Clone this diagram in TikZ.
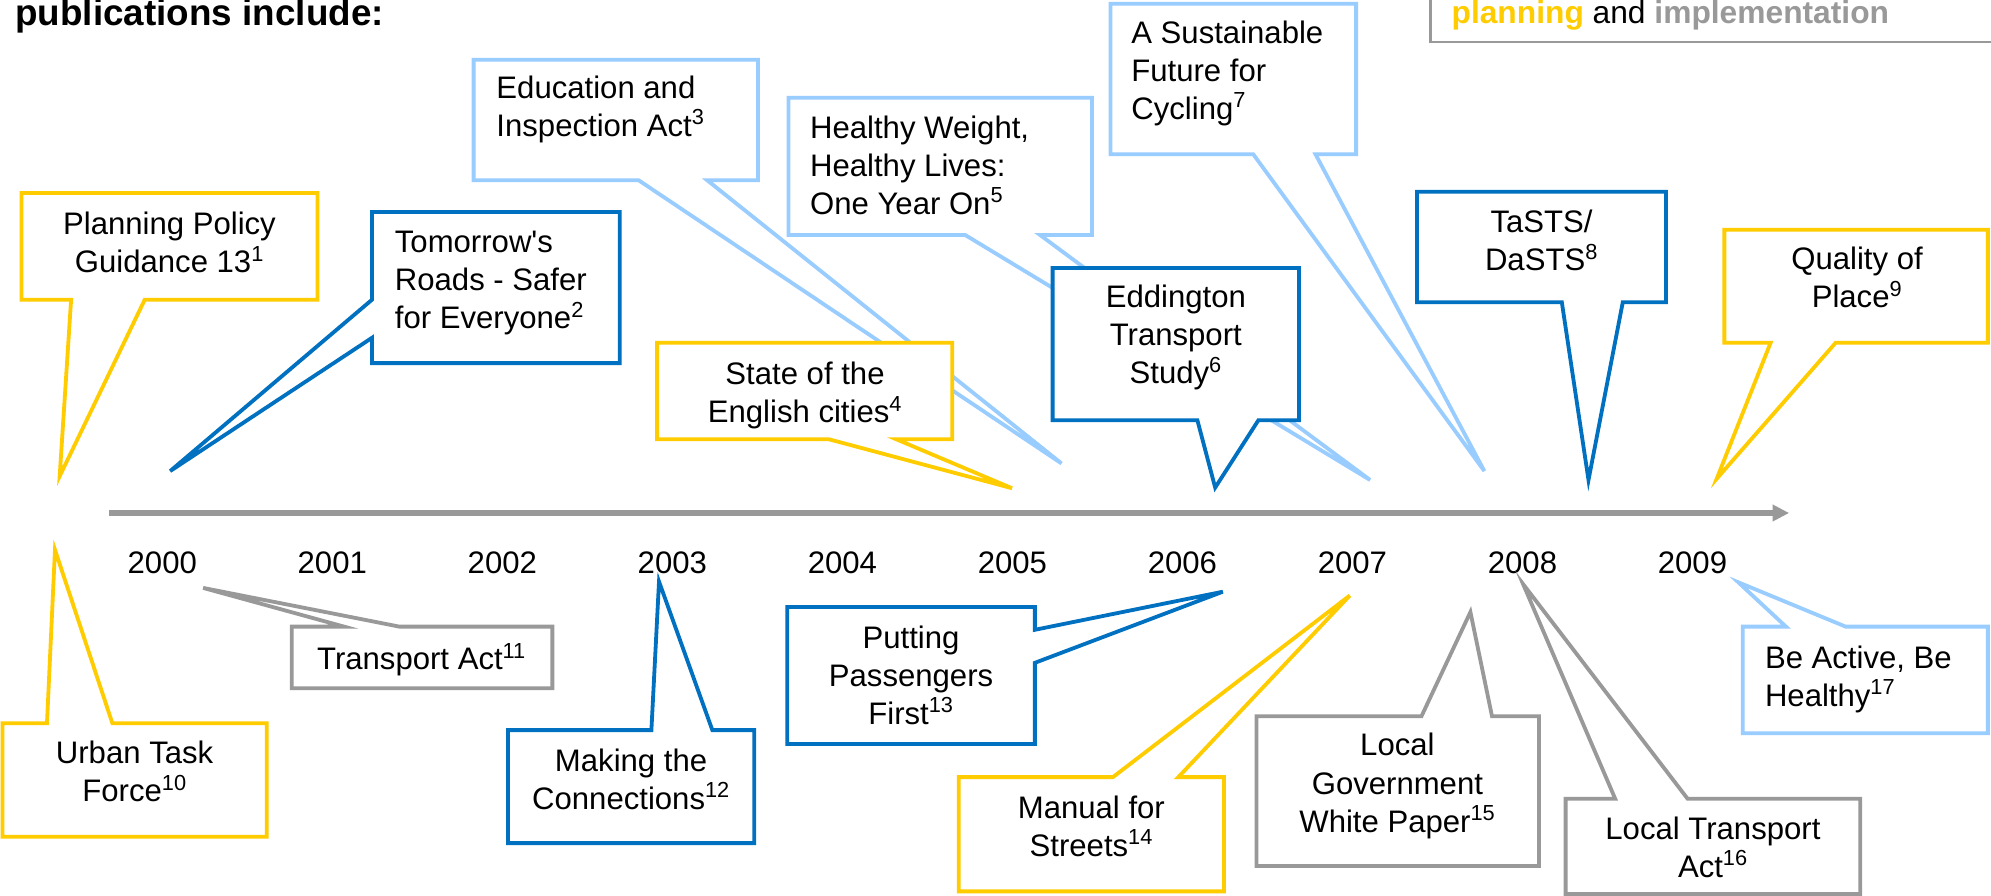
\documentclass[tikz,border=0pt]{standalone}
\usepackage{fontspec}
\setmainfont{Liberation Sans}
\usetikzlibrary{arrows.meta}
\definecolor{cyel}{HTML}{FFCC00}
\definecolor{cdblue}{HTML}{0070C0}
\definecolor{clblue}{HTML}{99CCFF}
\definecolor{cgray}{HTML}{999999}
\tikzset{
  box/.style={draw=none, inner sep=0pt, outer sep=0pt},
  txt/.style={inner sep=0pt, outer sep=0pt, font=\fontsize{24.5}{30}\selectfont,
              execute at begin node=\strut, execute at end node=\strut},
  ctxt/.style={txt, align=center},
  ltxt/.style={txt, align=left, anchor=west},
  callout/.style={line width=3pt, fill=white},
  yel/.style={callout, draw=cyel},
  dbl/.style={callout, draw=cdblue},
  lbl/.style={callout, draw=clblue},
  gry/.style={callout, draw=cgray},
}
\begin{document}
\begin{tikzpicture}[x=1pt,y=-1pt]
\useasboundingbox (0,0) rectangle (1568,705.6);
\clip (0,0) rectangle (1568,705.6);
\fill[white] (0,0) rectangle (1568,705.6);

% title and legend
\node[anchor=base west, inner sep=0pt, font=\fontsize{29}{34}\selectfont\bfseries] (title) at (12,20) {publications include:};
\node[draw=cgray, line width=1.8pt, inner sep=0pt, outer sep=0pt, minimum width=600pt, minimum height=90pt, anchor=south west] (legend) at (1126.5,33) {};
\node[anchor=base west, inner sep=0pt, font=\fontsize{25}{30}\selectfont] (legtext) at (1143,18.4)
  {\textbf{\color{cyel}planning} and \textbf{\color{cgray}implementation}};

% timeline
\coordinate (tl-a) at (86,404);
\coordinate (tl-b) at (1409,404);
\draw[cgray, line width=4.2pt, -{Triangle[length=13pt,width=12.5pt]}] (tl-a) -- (tl-b);
\foreach \yr [count=\i from 0] in {2000,2001,2002,2003,2004,2005,2006,2007,2008,2009}
  \node[txt] (y\yr) at (127.8+133.9*\i, 445.5) {\yr};

% ---------- top callouts ----------
% Education and Inspection Act
\node[box, minimum width=224pt, minimum height=95pt] (edu) at (485,94.5) {};
\coordinate (edu-b1) at (503,142); \coordinate (edu-b2) at (557,142); \coordinate (edu-tip) at (836,365);
\draw[lbl] (edu.north west) -- (edu.north east) -- (edu.south east) -- (edu-b2) -- (edu-tip) -- (edu-b1) -- (edu.south west) -- cycle;
\node[ltxt] (edu-t) at (391,88) {Education and\\Inspection Act\textsuperscript{3}};

% Healthy Weight
\node[box, minimum width=239pt, minimum height=108pt] (hw) at (740.5,131) {};
\coordinate (hw-b1) at (760,185); \coordinate (hw-b2) at (819,185); \coordinate (hw-tip) at (1079,378);
\draw[lbl] (hw.north west) -- (hw.north east) -- (hw.south east) -- (hw-b2) -- (hw-tip) -- (hw-b1) -- (hw.south west) -- cycle;
\node[ltxt] (hw-t) at (638,134.5) {Healthy Weight,\\Healthy Lives:\\One Year On\textsuperscript{5}};

% A Sustainable Future for Cycling
\node[box, minimum width=193.5pt, minimum height=118.5pt] (sus) at (971.25,62.25) {};
\coordinate (sus-b1) at (987,121.5); \coordinate (sus-b2) at (1036,121.5); \coordinate (sus-tip) at (1169,371);
\draw[lbl] (sus.north west) -- (sus.north east) -- (sus.south east) -- (sus-b2) -- (sus-tip) -- (sus-b1) -- (sus.south west) -- cycle;
\node[ltxt] (sus-t) at (891,59.5) {A Sustainable\\Future for\\Cycling\textsuperscript{7}};

% Planning Policy Guidance 13
\node[box, minimum width=233pt, minimum height=84pt] (ppg) at (133.5,194) {};
\coordinate (ppg-b1) at (56,236); \coordinate (ppg-b2) at (114,236); \coordinate (ppg-tip) at (47,375);
\draw[yel] (ppg.north west) -- (ppg.north east) -- (ppg.south east) -- (ppg-b2) -- (ppg-tip) -- (ppg-b1) -- (ppg.south west) -- cycle;
\node[ctxt] (ppg-t) at (133.5,195.5) {Planning Policy\\Guidance 13\textsuperscript{1}};

% Tomorrow's Roads
\node[box, minimum width=195pt, minimum height=119pt] (ttr) at (390.5,226.5) {};
\coordinate (ttr-b1) at (293,236); \coordinate (ttr-b2) at (293,266); \coordinate (ttr-tip) at (134,371);
\draw[dbl] (ttr.north west) -- (ttr.north east) -- (ttr.south east) -- (ttr.south west) -- (ttr-b2) -- (ttr-tip) -- (ttr-b1) -- cycle;
\node[ltxt] (ttr-t) at (311,225) {Tomorrow\textquotesingle s\\Roads - Safer\\for Everyone\textsuperscript{2}};

% State of the English cities
\node[box, minimum width=232.5pt, minimum height=76pt] (state) at (633.75,308) {};
\coordinate (state-b1) at (653,346); \coordinate (state-b2) at (706,346); \coordinate (state-tip) at (797,384.5);
\draw[yel] (state.north west) -- (state.north east) -- (state.south east) -- (state-b2) -- (state-tip) -- (state-b1) -- (state.south west) -- cycle;
\node[ctxt] (state-t) at (634,313.75) {State of the\\English cities\textsuperscript{4}};

% Eddington Transport Study
\node[box, minimum width=194pt, minimum height=120pt] (edd) at (926,271) {};
\coordinate (edd-b1) at (943,331); \coordinate (edd-b2) at (991,331); \coordinate (edd-tip) at (957,384);
\draw[dbl] (edd.north west) -- (edd.north east) -- (edd.south east) -- (edd-b2) -- (edd-tip) -- (edd-b1) -- (edd.south west) -- cycle;
\node[ctxt] (edd-t) at (926,268) {Eddington\\Transport\\Study\textsuperscript{6}};

% TaSTS / DaSTS
\node[box, minimum width=196pt, minimum height=87pt] (tasts) at (1214,194.5) {};
\coordinate (tasts-b1) at (1230,238); \coordinate (tasts-b2) at (1278,238); \coordinate (tasts-tip) at (1251,378);
\draw[dbl] (tasts.north west) -- (tasts.north east) -- (tasts.south east) -- (tasts-b2) -- (tasts-tip) -- (tasts-b1) -- (tasts.south west) -- cycle;
\node[ctxt] (tasts-t) at (1214,194) {TaSTS/\\DaSTS\textsuperscript{8}};

% Quality of Place
\node[box, minimum width=207.5pt, minimum height=89pt] (qop) at (1461.75,225.5) {};
\coordinate (qop-b1) at (1394.4,270); \coordinate (qop-b2) at (1445.6,270); \coordinate (qop-tip) at (1352,377);
\draw[yel] (qop.north west) -- (qop.north east) -- (qop.south east) -- (qop-b2) -- (qop-tip) -- (qop-b1) -- (qop.south west) -- cycle;
\node[ctxt] (qop-t) at (1462.5,223) {Quality of\\Place\textsuperscript{9}};

% ---------- bottom callouts ----------
% Urban Task Force
\node[box, minimum width=208pt, minimum height=89.4pt] (utf) at (106,614.3) {};
\coordinate (utf-b1) at (37,569.6); \coordinate (utf-b2) at (88.5,569.6); \coordinate (utf-tip) at (43.3,433);
\draw[yel] (utf.south west) -- (utf.south east) -- (utf.north east) -- (utf-b2) -- (utf-tip) -- (utf-b1) -- (utf.north west) -- cycle;
\node[ctxt] (utf-t) at (106,612.2) {Urban Task\\Force\textsuperscript{10}};

% Transport Act
\node[box, minimum width=205.3pt, minimum height=48.5pt] (ta) at (332.35,517.75) {};
\coordinate (ta-b1) at (271,493.5); \coordinate (ta-b2) at (314.5,493.5); \coordinate (ta-tip) at (160,463);
\draw[gry] (ta.south west) -- (ta.south east) -- (ta.north east) -- (ta-b2) -- (ta-tip) -- (ta-b1) -- (ta.north west) -- cycle;
\node[ctxt] (ta-t) at (332,521.6) {Transport Act\textsuperscript{11}};

% Making the Connections
\node[box, minimum width=194pt, minimum height=89pt] (mtc) at (497,619.5) {};
\coordinate (mtc-b1) at (513,575); \coordinate (mtc-b2) at (561,575); \coordinate (mtc-tip) at (519,458);
\draw[dbl] (mtc.south west) -- (mtc.south east) -- (mtc.north east) -- (mtc-b2) -- (mtc-tip) -- (mtc-b1) -- (mtc.north west) -- cycle;
\node[ctxt] (mtc-t) at (497,618) {Making the\\Connections\textsuperscript{12}};

% Putting Passengers First
\node[box, minimum width=195pt, minimum height=108pt] (ppf) at (717.5,532) {};
\coordinate (ppf-b1) at (815,496); \coordinate (ppf-b2) at (815,522); \coordinate (ppf-tip) at (963,466);
\draw[dbl] (ppf.north west) -- (ppf.north east) -- (ppf-b1) -- (ppf-tip) -- (ppf-b2) -- (ppf.south east) -- (ppf.south west) -- cycle;
\node[ctxt] (ppf-t) at (717.5,536) {Putting\\Passengers\\First\textsuperscript{13}};

% Manual for Streets
\node[box, minimum width=209pt, minimum height=90pt] (mfs) at (859.5,657) {};
\coordinate (mfs-b1) at (876.5,612); \coordinate (mfs-b2) at (928,612); \coordinate (mfs-tip) at (1063,469);
\draw[yel] (mfs.south west) -- (mfs.south east) -- (mfs.north east) -- (mfs-b2) -- (mfs-tip) -- (mfs-b1) -- (mfs.north west) -- cycle;
\node[ctxt] (mfs-t) at (859.5,654.85) {Manual for\\Streets\textsuperscript{14}};

% Local Government White Paper
\node[box, minimum width=222.5pt, minimum height=118pt] (lgwp) at (1100.75,623) {};
\coordinate (lgwp-b1) at (1119.5,564); \coordinate (lgwp-b2) at (1175,564); \coordinate (lgwp-tip) at (1158,482);
\draw[gry] (lgwp.south west) -- (lgwp.south east) -- (lgwp.north east) -- (lgwp-b2) -- (lgwp-tip) -- (lgwp-b1) -- (lgwp.north west) -- cycle;
\node[ctxt] (lgwp-t) at (1100.5,621) {Local\\Government\\White Paper\textsuperscript{15}};

% Local Transport Act
\node[box, minimum width=232pt, minimum height=75pt] (lta) at (1349,666.5) {};
\coordinate (lta-b1) at (1272,629); \coordinate (lta-b2) at (1329,629); \coordinate (lta-tip) at (1199.5,460);
\draw[gry] (lta.south west) -- (lta.south east) -- (lta.north east) -- (lta-b2) -- (lta-tip) -- (lta-b1) -- (lta.north west) -- cycle;
\node[ctxt] (lta-t) at (1349,671.5) {Local Transport\\Act\textsuperscript{16}};

% Be Active, Be Healthy
\node[box, minimum width=193.1pt, minimum height=84pt] (bab) at (1468.95,535.5) {};
\coordinate (bab-b1) at (1406.5,493.5); \coordinate (bab-b2) at (1453.5,493.5); \coordinate (bab-tip) at (1369,458.6);
\draw[lbl] (bab.south west) -- (bab.south east) -- (bab.north east) -- (bab-b2) -- (bab-tip) -- (bab-b1) -- (bab.north west) -- cycle;
\node[ltxt] (bab-t) at (1390,536.8) {Be Active, Be\\Healthy\textsuperscript{17}};
\end{tikzpicture}
\end{document}
